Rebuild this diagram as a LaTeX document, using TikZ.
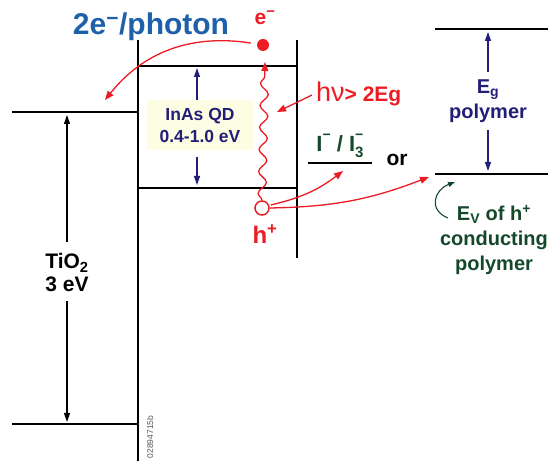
\documentclass[tikz,border=0pt]{standalone}
\usepackage{fontspec}
\setmainfont{Liberation Sans}
\usetikzlibrary{arrows.meta,decorations.pathmorphing}
\definecolor{qdred}{RGB}{235,28,36}
\definecolor{qdblue}{RGB}{30,96,170}
\definecolor{qdnavy}{RGB}{35,30,120}
\definecolor{qdgreen}{RGB}{20,72,42}
\definecolor{qdcream}{RGB}{253,253,228}
\newcommand{\chgup}[1]{\raisebox{0.52em}{\fontsize{14}{14}\selectfont #1}}
\newcommand{\chgdn}[1]{\raisebox{-0.3em}{\fontsize{15}{15}\selectfont #1}}

\begin{document}
\begin{tikzpicture}[x=1pt, y=-1pt,
  every node/.style={font=\bfseries, align=center, inner sep=1pt},
  level/.style={line width=2.6pt},
  gap/.style={-{Triangle[length=9pt,width=6pt]}, line width=1.1pt},
  hole/.style={-{Triangle[length=9pt,width=7pt]}, qdred, line width=1.3pt}]
\useasboundingbox (0,0) rectangle (558,462);
%% --- TiO2 ---
\draw[level] (12,112) -- (138,112);
\draw[level] (12,424) -- (138,424);
\draw[level] (138,40) -- (138,461);
\node[font=\bfseries\fontsize{21}{23}\selectfont] (tio) at (67,273) {TiO\textsubscript{2}\\3 eV};
\coordinate (tiocb) at (67,115);
\coordinate (tiovb) at (67,422);
\coordinate (tioup) at (67,242);
\coordinate (tiodn) at (67,301);
\draw[gap] (tioup) -- (tiocb);
\draw[gap] (tiodn) -- (tiovb);
\node[rotate=90, font=\fontsize{8.5}{9}\selectfont, gray!70!black] (code) at (150,437) {02894715b};
%% --- InAs QD ---
\draw[level] (138,66) -- (297,66);
\draw[level] (138,188) -- (297,188);
\draw[level] (297,40) -- (297,258);
\node[fill=qdcream, text=qdnavy, minimum width=106pt, minimum height=50pt,
  font=\bfseries\fontsize{17.5}{22}\selectfont] (qd) at (200,125) {InAs QD\\0.4-1.0 eV};
\coordinate (qdcb) at (197,68);
\coordinate (qdvb) at (197,185);
\draw[gap, qdnavy] (197,100) -- (qdcb);
\draw[gap, qdnavy] (197,157) -- (qdvb);
%% --- carriers ---
\node[circle, fill=qdred, minimum size=12pt, inner sep=0pt] (el) at (263,45) {};
\node[text=qdred, font=\bfseries\fontsize{21}{22}\selectfont] (ellab) at (265,18) {e\textsuperscript{−}};
\node[circle, draw=qdred, line width=1.5pt, fill=white, minimum size=14pt, inner sep=0pt] (ho) at (262,208) {};
\node[text=qdred, font=\bfseries\fontsize{24}{25}\selectfont] (holab) at (265,234) {h\textsuperscript{+}};
\node[text=qdblue, font=\bfseries\fontsize{30}{32}\selectfont] (yield) at (151,27) {2e\textsuperscript{−}/photon};
\coordinate (inj) at (105,100);
\draw[hole] (el.west) ++(-6,-2) to[bend right=30] (inj);
\coordinate (exc) at (265,62);
\draw[qdred, line width=1.3pt,
  decoration={snake, amplitude=4pt, segment length=22pt, post length=9pt}, decorate,
  -{Triangle[length=9pt,width=7pt]}] (ho.north) -- (exc);
\node[text=qdred, anchor=base west, font=\mdseries] (hv) at (315,102)
  {\fontsize{27}{28}\selectfont hν\bfseries\fontsize{21}{22}\selectfont > 2Eg};
\coordinate (wave) at (277,112);
\draw[hole] (312,95) -- (wave);
%% --- acceptors ---
\draw[level] (308,163) -- (372,163);
\node[text=qdgreen, font=\bfseries\fontsize{22}{24}\selectfont] (redox) at (340,146)
  {I\chgup{−} / I\rlap{\chgup{−}}\chgdn{3}};
\node[font=\bfseries\fontsize{21}{22}\selectfont] (or) at (397,160) {or};
\coordinate (redoxlv) at (343,171);
\coordinate (polylv) at (429,177);
\draw[hole] (ho.east) ++(1,-3) to[bend right=12] (redoxlv);
\draw[hole] (ho.east) to[bend right=10] (polylv);
%% --- polymer ---
\draw[level] (435,29) -- (548,29);
\draw[level] (435,174) -- (548,174);
\node[text=qdnavy, font=\bfseries\fontsize{20}{25}\selectfont] (eg) at (488,101) {E\textsubscript{g}\\polymer};
\coordinate (pcb) at (488,32);
\coordinate (pvb) at (488,171);
\draw[gap, qdnavy] (488,72) -- (pcb);
\draw[gap, qdnavy] (488,130) -- (pvb);
\node[text=qdgreen, font=\bfseries\fontsize{20}{25}\selectfont] (ev) at (494,240)
  {E\textsubscript{V} of h\textsuperscript{+}\\conducting\\polymer};
\coordinate (evlv) at (455,182);
\draw[qdgreen, line width=1.1pt, -{Triangle[length=7pt,width=5pt]}]
  (448,218) .. controls (428,210) and (434,190) .. (evlv);
\end{tikzpicture}
\end{document}
